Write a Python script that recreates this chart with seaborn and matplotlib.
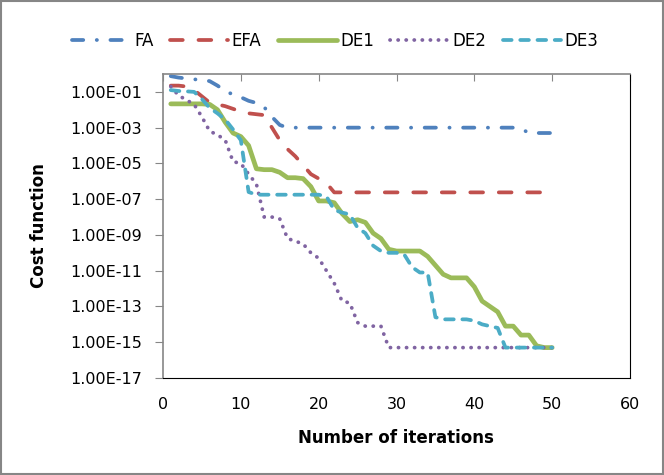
import numpy as np
import pandas as pd
import matplotlib
matplotlib.use("Agg")
import matplotlib.pyplot as plt
from matplotlib.ticker import FixedLocator, FuncFormatter
import seaborn as sns

# --- dane (log10 wartości) ---
iterations = list(range(1, 51))

fa_log10 = [-0.12, -0.2, -0.25, -0.3, -0.32, -0.4, -0.65, -0.95, -1.15, -1.3,
            -1.5, -1.62, -1.85, -2.4, -2.85, -3.0] + [-3.0] * 29 + [-3.05] + [-3.3] * 4

efa_log10 = [-0.65, -0.65, -0.7, -0.9, -1.25, -1.6, -1.7, -1.8, -1.95, -2.1,
             -2.2, -2.25, -2.3, -3.0, -3.7, -4.2, -4.6, -5.1, -5.6, -5.85,
             -6.1, -6.62] + [-6.62] * 28

de1_log10 = [-1.67, -1.67, -1.67, -1.67, -1.67, -1.7, -2.0, -2.7, -3.3, -3.5,
             -4.0, -5.3, -5.35, -5.35, -5.5, -5.8, -5.8, -5.85, -6.3, -7.1,
             -7.1, -7.2, -7.8, -8.25, -8.15, -8.3, -8.9, -9.2, -9.8, -9.9,
             -9.9, -9.9, -9.9, -10.2, -10.7, -11.2, -11.4, -11.4, -11.4, -11.9,
             -12.7, -13.0, -13.3, -14.1, -14.1, -14.6, -14.6, -15.2, -15.3, -15.3]

de2_log10 = [-0.7, -1.2, -1.45, -1.7, -2.4, -3.2, -3.4, -3.7, -4.9, -5.0,
             -5.6, -6.15, -8.0, -8.0, -8.1, -9.2, -9.35, -9.5, -10.0, -10.3,
             -11.0, -11.7, -12.7, -12.8, -13.9, -14.1, -14.1, -14.1] + [-15.3] * 22

de3_log10 = [-0.9, -0.95, -0.97, -1.0, -1.4, -1.9, -2.2, -2.55, -3.1, -3.7,
             -6.6, -6.75, -6.75, -6.75, -6.75, -6.75, -6.75, -6.75, -6.75, -6.75,
             -6.85, -7.6, -7.75, -7.85, -8.6, -8.9, -9.6, -9.9, -10.0, -10.0,
             -10.1, -10.8, -11.1, -11.1, -13.6, -13.72, -13.72, -13.72, -13.72, -13.8,
             -14.0, -14.1, -14.2, -15.3] + [-15.3] * 6

series_names = ["FA", "EFA", "DE1", "DE2", "DE3"]
series_values = [fa_log10, efa_log10, de1_log10, de2_log10, de3_log10]

# style linii (kolory Excel 2007)
colors = ["#4F81BD", "#C0504D", "#9BBB59", "#8064A2", "#4BACC6"]
styles = [(0, (3.0, 3.6, 0.05, 3.6)),
          (0, (3.4, 4.2)),
          "-",
          (0, (0.05, 2.1)),
          (0, (2.3, 2.3))]
widths = [2.7, 2.7, 3.4, 2.7, 2.7]

plt.rcParams["font.family"] = ["DejaVu Sans"]

fig = plt.figure(figsize=(6.64, 4.75), dpi=100)
ax = fig.add_axes([163 / 664, 1 - 378 / 475, 467 / 664, 304 / 475])

for name, vals, c, ls, lw in zip(series_names, series_values, colors, styles, widths):
    df = pd.DataFrame({"iter": iterations, "cost": 10.0 ** np.array(vals)})
    sns.lineplot(data=df, x="iter", y="cost", ax=ax, color=c, linestyle=ls,
                 linewidth=lw, label=name, dash_capstyle="round",
                 solid_capstyle="round", solid_joinstyle="round")

ax.set_yscale("log")
ax.set_ylim(1e-17, 1e0)
ax.set_xlim(0, 60)
ax.set_xticks(range(0, 61, 10))
ax.yaxis.set_major_locator(FixedLocator([10.0 ** e for e in range(-17, 0, 2)]))
ax.yaxis.set_minor_locator(FixedLocator([]))
ax.yaxis.set_major_formatter(FuncFormatter(lambda v, p: f"{v:.2E}"))

ax.tick_params(axis="x", top=True, bottom=False, labeltop=False, labelbottom=True,
               direction="in", length=5, color="#868686", pad=14, labelsize=11.5)
ax.tick_params(axis="y", direction="out", length=6, color="#868686", pad=9,
               labelsize=11.5)

for side in ["left", "top"]:
    ax.spines[side].set_color("#868686")
    ax.spines[side].set_linewidth(1.2)
for side in ["right", "bottom"]:
    ax.spines[side].set_color("black")
    ax.spines[side].set_linewidth(0.8)

ax.set_xlabel("Number of iterations", fontsize=12, fontweight="bold")
ax.set_ylabel("Cost function", fontsize=12, fontweight="bold")
ax.xaxis.set_label_coords(0.499, -0.168)
ax.yaxis.set_label_coords(-0.246, 0.5)

handles, labels = ax.get_legend_handles_labels()
ax.get_legend().remove()
fig.legend(handles, labels, loc="center", bbox_to_anchor=(0.505, 1 - 41 / 475),
           ncol=5, frameon=False, fontsize=12, handlelength=3.5,
           handletextpad=0.2, columnspacing=1.0)

fig.patches.append(plt.Rectangle((0.002, 0.002), 0.996, 0.996, transform=fig.transFigure,
                                 fill=False, edgecolor="#868686", linewidth=1.5))

fig.savefig("out.png", dpi=100)
